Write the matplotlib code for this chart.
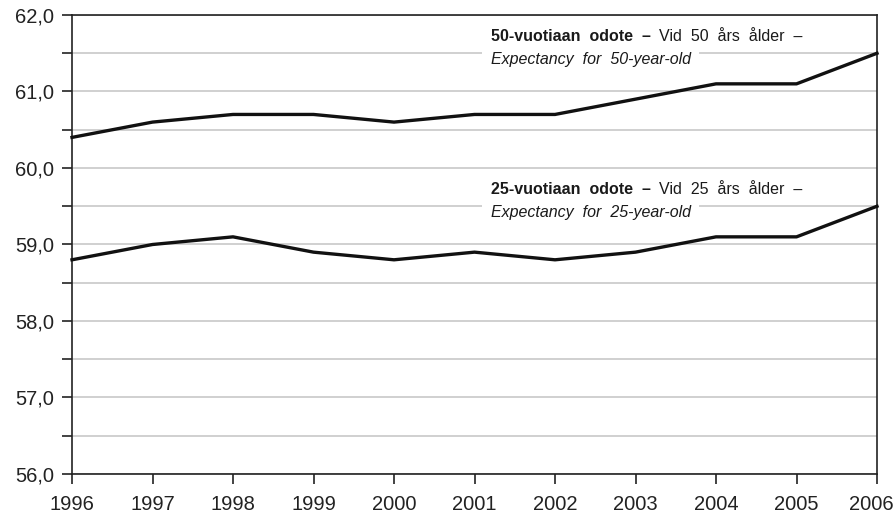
import matplotlib
matplotlib.use("Agg")
import matplotlib.pyplot as plt
import matplotlib.transforms as mtransforms
from matplotlib.ticker import MultipleLocator, FuncFormatter

years = [1996, 1997, 1998, 1999, 2000, 2001, 2002, 2003, 2004, 2005, 2006]
exp50 = [60.4, 60.6, 60.7, 60.7, 60.6, 60.7, 60.7, 60.9, 61.1, 61.1, 61.5]
exp25 = [58.8, 59.0, 59.1, 58.9, 58.8, 58.9, 58.8, 58.9, 59.1, 59.1, 59.5]

plt.rcParams['font.family'] = ['Liberation Sans', 'DejaVu Sans']

fig = plt.figure(figsize=(8.96, 5.18), dpi=100)
ax = fig.add_axes([72/896, 44/518, (877-72)/896, (474-15)/518])

ax.set_xlim(1996, 2006)
ax.set_ylim(56, 62)
ax.yaxis.set_major_locator(MultipleLocator(1))
ax.yaxis.set_minor_locator(MultipleLocator(0.5))
ax.yaxis.set_major_formatter(FuncFormatter(lambda v, p: f"{v:.1f}".replace('.', ',')))
ax.set_xticks(years)
ax.set_xticklabels([str(y) for y in years])

ax.grid(True, axis='y', which='both', color='#c8c8c8', linewidth=1.2, zorder=0)
for s in ax.spines.values():
    s.set_color('#222222')
    s.set_linewidth(1.2)

ax.tick_params(axis='both', which='both', direction='out', length=7, width=1.2,
               color='#222222', labelsize=14.5, labelcolor='#222222')
ax.tick_params(axis='y', pad=6)
ax.tick_params(axis='x', pad=8)

# nudge the last x label inward so it stays inside the figure
last = ax.get_xticklabels()[-1]
last.set_transform(last.get_transform() +
                   mtransforms.ScaledTranslation(-6/100, 0, fig.dpi_scale_trans))

ax.plot(years, exp50, color='#111111', linewidth=2.4, zorder=3, clip_on=False)
ax.plot(years, exp25, color='#111111', linewidth=2.4, zorder=3, clip_on=False)

def label(x, y, n):
    t1 = ax.text(x, y, f'{n}-vuotiaan  odote  –', fontweight='bold', fontsize=11.5,
                 va='baseline', ha='left', color='#1a1a1a', zorder=5)
    ax.annotate(f'  Vid  {n}  års  ålder  –', xy=(1, 0), xycoords=t1,
                fontsize=11.5, va='bottom', ha='left', color='#1a1a1a', zorder=5)
    ax.text(x, y - 0.3, f'Expectancy  for  {n}-year-old', style='italic', fontsize=11.5,
            va='baseline', ha='left', color='#1a1a1a', zorder=4,
            bbox=dict(facecolor='white', edgecolor='none', pad=6))

label(2001.2, 61.66, 50)
label(2001.2, 59.66, 25)

fig.savefig('out.png', dpi=100)
